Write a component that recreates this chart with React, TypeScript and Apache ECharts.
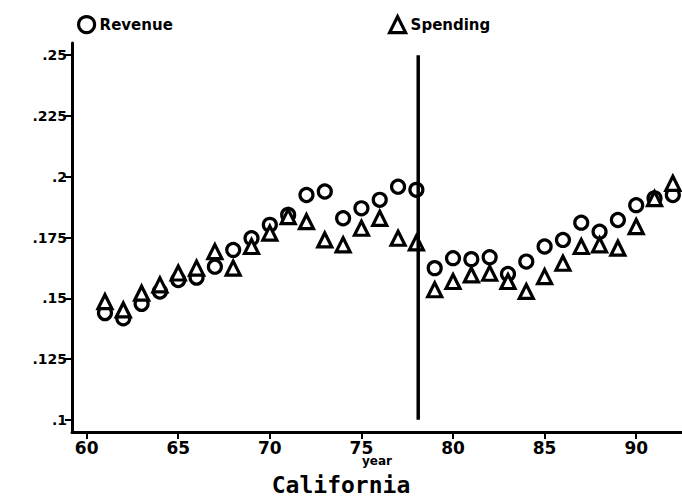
import React, { useEffect, useRef } from "react";
import * as echarts from "echarts";

const years = [61, 62, 63, 64, 65, 66, 67, 68, 69, 70, 71, 72, 73, 74, 75, 76, 77, 78, 79, 80, 81, 82, 83, 84, 85, 86, 87, 88, 89, 90, 91, 92];
const revenue = [0.1439, 0.1418, 0.1477, 0.1528, 0.1575, 0.1585, 0.163, 0.1699, 0.1747, 0.1802, 0.1843, 0.1925, 0.1939, 0.1829, 0.187, 0.1905, 0.1959, 0.1946, 0.1624, 0.1665, 0.1661, 0.1669, 0.16, 0.1651, 0.1713, 0.174, 0.1811, 0.1774, 0.1822, 0.1883, 0.1911, 0.1925];
const spending = [0.1486, 0.1452, 0.1521, 0.1555, 0.1604, 0.1624, 0.1692, 0.1624, 0.1713, 0.1768, 0.1836, 0.1815, 0.174, 0.172, 0.1788, 0.1829, 0.1747, 0.1728, 0.1535, 0.1569, 0.1596, 0.1603, 0.1569, 0.1528, 0.1589, 0.1644, 0.1713, 0.172, 0.1706, 0.1795, 0.191, 0.1973];
const xTicks = [60, 65, 70, 75, 80, 85, 90];
const yTicks = [0.1, 0.125, 0.15, 0.175, 0.2, 0.225, 0.25];
const yTickLabels = [".1", ".125", ".15", ".175", ".2", ".225", ".25"];
const breakYear = 78.1;
const breakRange = [0.1, 0.25];

export default function App() {
  const ref = useRef<HTMLDivElement>(null);
  useEffect(() => {
    const chart = echarts.init(ref.current!, null, { renderer: "svg" });
    const font = "DejaVu Sans";
    const marker = { color: "#fff", borderColor: "#000", borderWidth: 3.2, opacity: 1 };
    chart.setOption({
      animation: false,
      backgroundColor: "#fff",
      textStyle: { fontFamily: font },
      title: {
        text: "California",
        left: "center",
        top: 473,
        padding: 0,
        textStyle: { fontFamily: "DejaVu Sans Mono", fontWeight: "bold", fontSize: 23, lineHeight: 24, color: "#000" },
      },
      graphic: [
        {
          type: "text",
          x: 377,
          y: 461,
          style: {
            text: "year",
            fontFamily: font,
            fontWeight: "bold",
            fontSize: 12,
            fill: "#000",
            align: "center",
            verticalAlign: "middle",
          },
        },
      ],
      legend: [
        {
          data: ["Revenue"],
          left: 72,
          top: 10,
          itemWidth: 16,
          itemHeight: 16,
          itemGap: 4,
          icon: "circle",
          itemStyle: marker,
          textStyle: { fontFamily: font, fontWeight: "bold", fontSize: 15, color: "#000" },
        },
        {
          data: ["Spending"],
          left: 383,
          top: 10,
          itemWidth: 16,
          itemHeight: 16,
          itemGap: 4,
          icon: "triangle",
          itemStyle: marker,
          textStyle: { fontFamily: font, fontWeight: "bold", fontSize: 15, color: "#000" },
        },
      ],
      grid: { left: 72, right: 0, top: 43, bottom: 66 },
      xAxis: {
        type: "value",
        min: 59.2,
        max: 92.5,
        axisLine: { show: true, lineStyle: { color: "#000", width: 3 } },
        axisTick: { show: true, customValues: xTicks, length: 7, lineStyle: { color: "#000", width: 2 } },
        axisLabel: {
          customValues: xTicks,
          fontFamily: font,
          fontWeight: "bold",
          fontSize: 17,
          color: "#000",
          margin: 7,
        },
        splitLine: { show: false },
      },
      yAxis: {
        type: "value",
        min: 0.095,
        max: 0.255,
        axisLine: { show: true, lineStyle: { color: "#000", width: 3 } },
        axisTick: { show: true, customValues: yTicks, length: 7, lineStyle: { color: "#000", width: 2 } },
        axisLabel: {
          customValues: yTicks,
          fontFamily: font,
          fontWeight: "bold",
          fontSize: 14,
          color: "#000",
          margin: 5,
          formatter: (v: number) => {
            const i = yTicks.findIndex((t) => Math.abs(t - v) < 1e-6);
            return i >= 0 ? yTickLabels[i] : "";
          },
        },
        splitLine: { show: false },
      },
      series: [
        {
          name: "Revenue",
          type: "scatter",
          symbol: "circle",
          symbolSize: 13,
          itemStyle: marker,
          data: years.map((y, i) => [y, revenue[i]]),
          z: 3,
        },
        {
          name: "Spending",
          type: "scatter",
          symbol: "triangle",
          symbolSize: 14,
          itemStyle: marker,
          data: years.map((y, i) => [y, spending[i]]),
          z: 4,
        },
        {
          name: "break",
          type: "line",
          symbol: "none",
          silent: true,
          lineStyle: { color: "#000", width: 3.5 },
          data: breakRange.map((v) => [breakYear, v]),
          z: 5,
        },
      ],
    });
    return () => chart.dispose();
  }, []);
  return (
    <div
      ref={ref}
      style={{ position: "fixed", left: 0, top: 0, width: 682, height: 498, background: "#fff" }}
    />
  );
}
